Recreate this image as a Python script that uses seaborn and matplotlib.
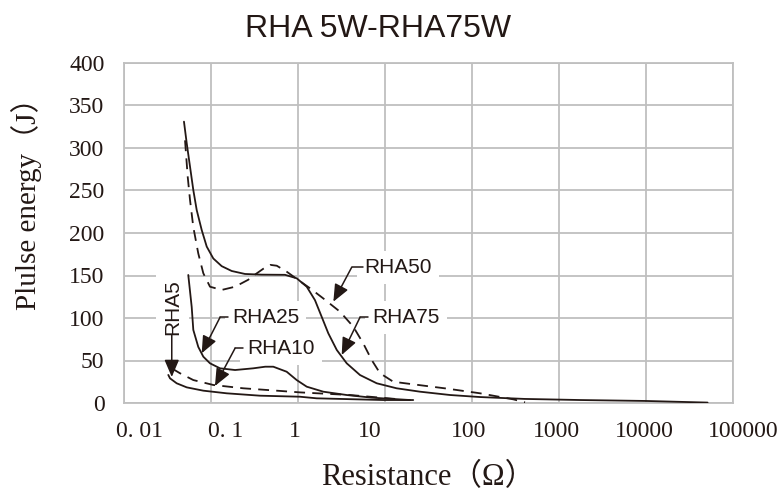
import matplotlib
matplotlib.use("Agg")
import matplotlib.pyplot as plt
import matplotlib.transforms as mtransforms
import seaborn as sns
import pandas as pd

# ---- data ----
rha75_x = [0.0489, 0.0526, 0.0574, 0.0626, 0.0685, 0.0782, 0.0893, 0.1063, 0.1327, 0.173, 0.246,
           0.383, 0.709, 0.966, 1.26, 1.567, 1.87, 2.23, 2.79, 3.63, 5.16, 8.03, 13.6, 25.3, 56,
           124, 400, 1740, 10000, 51000]
rha75_y = [331, 305.5, 278, 250.6, 227, 203.5, 184, 170, 161, 155.3, 151.8,
           151, 150.8, 146.7, 136.8, 121, 101.5, 82, 62.4, 46.7, 32.9, 23.2, 17.3, 13.3, 9.4,
           7, 4.8, 3.5, 2.4, 0.5]

rha50_x = [0.0503, 0.054, 0.0574, 0.0626, 0.0714, 0.0816, 0.0974, 0.1327, 0.189, 0.268, 0.33,
           0.40, 0.48, 0.57, 0.741, 1.008, 1.374, 1.954, 3.04, 4.32, 5.63, 7.03, 8.77, 12.45,
           21, 51, 124, 298, 407]
rha50_y = [309, 266, 238.8, 207, 176, 152.6, 136.8, 133, 136.8, 145, 152,
           158, 162.5, 161.5, 154.5, 144.7, 135, 123, 107.4, 89.8, 70, 50.6, 35, 25,
           22, 17, 11.4, 4.3, 0.8]

rha25_x = [0.0548, 0.060, 0.0626, 0.0714, 0.0816, 0.0974, 0.127, 0.189, 0.306, 0.42, 0.52,
           0.741, 0.966, 1.26, 1.954, 3.63, 7.0, 19.4]
rha25_y = [150.6, 113, 86, 66, 54.5, 46.7, 40.8, 38.8, 40.8, 42.7, 42.7,
           36.8, 27, 19.2, 13.3, 9.4, 6.3, 3.5]

rha10_x = [0.0354, 0.044, 0.0626, 0.1063, 0.235, 0.569, 1.05, 3.96, 14.9]
rha10_y = [40.8, 35, 27, 21.2, 17.3, 14.5, 12.5, 9.4, 4.3]

rha5_x = [0.0323, 0.0338, 0.0403, 0.0526, 0.0816, 0.1515, 0.366, 1.05, 1.64, 9.56, 21.1]
rha5_y = [33, 29, 23.2, 18.4, 14.5, 11.4, 8.6, 7.4, 5.5, 3.5, 3.5]

series_names = ["RHA75", "RHA50", "RHA25", "RHA10", "RHA5"]
series_x = [rha75_x, rha50_x, rha25_x, rha10_x, rha5_x]
series_y = [rha75_y, rha50_y, rha25_y, rha10_y, rha5_y]
series_dash = [False, True, False, True, False]

x_ticks = [0.01, 0.1, 1, 10, 100, 1000, 10000, 100000]
x_tick_labels = ["0. 01", "0. 1", "1", "10", "100", "1000", "10000", "100000"]
y_ticks = [0, 50, 100, 150, 200, 250, 300, 350, 400]

title = "RHA 5W-RHA75W"
x_label = "Resistance（Ω）"
y_label = "Plulse energy（J）"

# annotation layout: (label, text xy, line start x, bend x, tip xy)
annots = [
    ("RHA50", (5.81, 159.6), 5.63, 4.14, (2.55, 119.2)),
    ("RHA75", (7.09, 100.8), 6.43, 5.16, (3.18, 56.5)),
    ("RHA25", (0.174, 100.8), 0.158, 0.127, (0.0782, 58.5)),
    ("RHA10", (0.259, 64.4), 0.235, 0.189, (0.111, 20.0)),
]
rha5_label_xy = (0.0361, 113.3)
rha5_line = ((0.0354, 80.0), (0.0354, 30.6))

# ---- style ----
sns.set_theme(style="white")
ink = "#231815"
grid_c = "#BFBFBF"
serif = ["Liberation Serif", "Noto Sans CJK JP", "DejaVu Serif"]
sans = ["Liberation Sans", "DejaVu Sans"]
plt.rcParams["font.family"] = serif

fig = plt.figure(figsize=(7.79, 4.93), dpi=100)
ax = fig.add_axes([124 / 779, 1 - 403 / 493, (733 - 124) / 779, (403 - 63) / 493])

frames = []
for n, xs, ys in zip(series_names, series_x, series_y):
    frames.append(pd.DataFrame({"R": xs, "E": ys, "series": n}))
df = pd.concat(frames, ignore_index=True)

for n, dashed in zip(series_names, series_dash):
    sub = df[df["series"] == n]
    sns.lineplot(data=sub, x="R", y="E", ax=ax, color=ink, lw=1.3, sort=False,
                 estimator=None, linestyle=(0, (6, 4)) if dashed else "-", zorder=6)

ax.set_xscale("log")
ax.set_xlim(0.01, 100000)
ax.set_ylim(0, 400)
ax.set_xticks(x_ticks)
ax.set_xticklabels(x_tick_labels)
ax.minorticks_off()
ax.set_yticks(y_ticks)
ax.grid(True, which="major", color=grid_c, lw=1.3)
ax.set_axisbelow(True)
for s in ax.spines.values():
    s.set_color(grid_c)
    s.set_linewidth(1.3)
ax.tick_params(axis="both", length=0, labelsize=17, colors=ink)
ax.tick_params(axis="x", pad=13)
ax.tick_params(axis="y", pad=14)

# shift x tick labels like the reference (pixel offsets)
x_label_shift_px = [16, 15, -3, -15, -3, -3, -2, 10]
for lab, dx in zip(ax.get_xticklabels(), x_label_shift_px):
    lab.set_transform(lab.get_transform() + mtransforms.ScaledTranslation(dx / 100, 0, fig.dpi_scale_trans))

ax.set_xlabel(x_label, fontsize=22, color=ink, labelpad=15)
ax.set_ylabel(y_label, fontsize=21, color=ink)
ax.yaxis.set_label_coords(-0.134, 0.606)

fig.text(378 / 779, 1 - 29 / 493, title, ha="center", va="center", fontsize=23,
         family=sans, color=ink)

# annotations
arrow_style = "-|>,head_length=0.75,head_width=0.32"
for lab, txy, x0, xb, tip in annots:
    ax.text(txy[0], txy[1], lab, ha="left", va="center", fontsize=15, family=sans, color=ink,
            zorder=4, bbox=dict(boxstyle="square,pad=0.35", fc="white", ec="none"))
    ax.plot([x0, xb], [txy[1], txy[1]], color=ink, lw=1.1, zorder=7)
    ax.annotate("", xy=tip, xytext=(xb, txy[1]),
                arrowprops=dict(arrowstyle=arrow_style, mutation_scale=14, color=ink,
                                lw=1.1, shrinkA=0, shrinkB=0), zorder=7)

ax.text(rha5_label_xy[0], rha5_label_xy[1], "RHA5", ha="center", va="center", rotation=90,
        fontsize=15, family=sans, color=ink, zorder=4,
        bbox=dict(boxstyle="square,pad=0.35", fc="white", ec="none"))
ax.annotate("", xy=rha5_line[1], xytext=rha5_line[0],
            arrowprops=dict(arrowstyle=arrow_style, mutation_scale=14, color=ink,
                            lw=1.1, shrinkA=0, shrinkB=0), zorder=7)

fig.savefig("out.png", dpi=100)
